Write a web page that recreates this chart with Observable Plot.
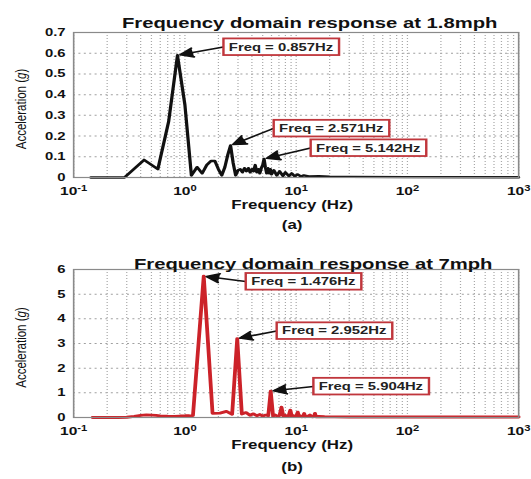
<!DOCTYPE html>
<html><head><meta charset="utf-8">
<script src="https://cdn.jsdelivr.net/npm/d3@7"></script>
<script src="https://cdn.jsdelivr.net/npm/@observablehq/plot@0.6"></script>
<style>
body{margin:0;background:#fff;}
#chart{width:531px;height:479px;overflow:hidden;background:#fff;}
#chart svg{display:block;}
</style></head><body><div id="chart"></div>
<script>
// ---------- data ----------
const xTicks = [0.1, 1, 10, 100, 1000];

const titleA = "Frequency domain response at 1.8mph";
const captionA = "(a)";
const freqA = [0.143, 0.286, 0.429, 0.571, 0.714, 0.857, 1.0, 1.143, 1.286, 1.429, 1.571, 1.714, 1.857, 2.0, 2.143, 2.286, 2.429, 2.571, 2.714, 2.857, 3.0, 3.143, 3.286, 3.429, 3.571, 3.714, 3.857, 4.0, 4.143, 4.286, 4.429, 4.571, 4.714, 4.857, 5.0, 5.143, 5.286, 5.429, 5.571, 5.714, 5.857, 6.0, 6.3, 6.7, 7.1, 7.6, 8.0, 8.6, 9.1, 9.7, 10.3, 11.0, 11.7, 13.0, 16.0, 20.0, 30.0, 100, 1000];
const accA = [0, 0, 0.085, 0.04, 0.27, 0.59, 0.35, 0.01, 0.05, 0.02, 0.06, 0.08, 0.08, 0.04, 0.01, 0.05, 0.11, 0.155, 0.07, 0.01, 0.035, 0.04, 0.025, 0.045, 0.03, 0.045, 0.025, 0.04, 0.03, 0.06, 0.025, 0.04, 0.02, 0.045, 0.06, 0.09, 0.05, 0.02, 0.045, 0.02, 0.04, 0.015, 0.035, 0.01, 0.03, 0.008, 0.025, 0.007, 0.02, 0.006, 0.015, 0.005, 0.01, 0.005, 0.006, 0.004, 0.003, 0.002, 0.001];
const noteLabelA = ["Freq = 0.857Hz", "Freq = 2.571Hz", "Freq = 5.142Hz"];
const peakFreqA = [0.857, 2.571, 5.142];
const peakAccA = [0.59, 0.155, 0.09];
const noteFreqA = [2.22, 6.28, 13.5];
const noteAccA = [0.63, 0.237, 0.1425];

const titleB = "Frequency domain response at 7mph";
const captionB = "(b)";
const freqB = [0.148, 0.2, 0.25, 0.3, 0.35, 0.4, 0.45, 0.5, 0.55, 0.6, 0.7, 0.8, 0.9, 1.0, 1.1, 1.181, 1.476, 1.771, 2.066, 2.362, 2.657, 2.952, 3.247, 3.542, 3.838, 4.133, 4.428, 4.723, 5.018, 5.314, 5.609, 5.904, 6.199, 6.494, 6.79, 7.085, 7.38, 7.675, 7.97, 8.27, 8.56, 8.86, 9.15, 9.45, 9.74, 10.04, 10.33, 10.63, 10.92, 11.22, 11.51, 11.81, 12.1, 12.7, 13.28, 13.9, 14.46, 14.76, 15.05, 16.0, 18.0, 22.0, 30.0, 100, 1000];
const accB = [0, 0, 0, 0.01, 0.05, 0.09, 0.11, 0.1, 0.09, 0.07, 0.05, 0.04, 0.06, 0.07, 0.07, 0.08, 5.73, 0.17, 0.18, 0.25, 0.13, 3.2, 0.14, 0.2, 0.09, 0.15, 0.07, 0.12, 0.06, 0.1, 0.07, 1.07, 0.06, 0.1, 0.05, 0.08, 0.42, 0.05, 0.09, 0.04, 0.07, 0.3, 0.04, 0.07, 0.04, 0.06, 0.22, 0.04, 0.06, 0.03, 0.05, 0.16, 0.03, 0.05, 0.1, 0.03, 0.04, 0.17, 0.03, 0.04, 0.03, 0.025, 0.02, 0.02, 0.02];
const noteLabelB = ["Freq = 1.476Hz", "Freq = 2.952Hz", "Freq = 5.904Hz"];
const peakFreqB = [1.476, 2.952, 5.904];
const peakAccB = [5.73, 3.2, 1.07];
const noteFreqB = [3.52, 6.68, 14.28];
const noteAccB = [5.51, 3.51, 1.26];

const xLabel = "Frequency (Hz)";
const yLabel = "Acceleration (g)";

// ---------- drawing ----------
const S = 1.35;            // horizontal stretch of the original figure
const W = 531 / S;
const NS = "http://www.w3.org/2000/svg";
const FONT = "'Liberation Sans', Arial, sans-serif";

function panel(o) {
  const rows = o.freq.map((f, i) => ({f, a: o.acc[i]}));
  const notes = o.labels.map((l, i) => ({label: l, px: o.pf[i], py: o.pa[i], nx: o.nf[i], ny: o.na[i]}));
  const svg = Plot.plot({
    width: W, height: o.height,
    marginLeft: 73 / S, marginRight: W - 518 / S,
    marginTop: o.mt, marginBottom: o.mb,
    style: {fontFamily: FONT, background: "white", color: "#111"},
    x: {type: "log", domain: [0.1, 1000]},
    y: {domain: [0, o.yMax]},
    marks: [
      Plot.gridX({ticks: 40, stroke: "#a8a8a8", strokeOpacity: 1, strokeWidth: 0.9, strokeDasharray: "1,2"}),
      Plot.gridY({ticks: o.yTicks, stroke: "#a0a0a0", strokeOpacity: 1, strokeWidth: 1, strokeDasharray: "1.5,2.5"}),
      Plot.line(rows, {x: "f", y: "a", stroke: o.color, strokeWidth: o.sw}),
      Plot.frame({stroke: "#8a8a8a", strokeWidth: 1.2}),
      Plot.arrow(notes, {x1: "nx", y1: "ny", x2: "px", y2: "py", stroke: "#111", fill: "#111", strokeWidth: 1.6, headLength: 10, headAngle: 50, insetEnd: 2}),
      Plot.text(notes, {x: "nx", y: "ny", text: "label", textAnchor: "start", dx: 4, fontSize: 11, fontWeight: "bold", fill: "#222"}),
      Plot.axisX({ticks: xTicks, tickFormat: d => "10^" + Math.round(Math.log10(d)), tickSize: 0, tickPadding: 9.5, fontSize: 11.5, fontWeight: "bold", label: null}),
      Plot.axisY({ticks: o.yTicks, tickFormat: "~g", tickSize: 0, tickPadding: 6, fontSize: 11, fontWeight: "bold", label: null}),
      Plot.text([o.title], {text: d => d, frameAnchor: "top", dy: o.titleDy, dx: o.titleDx, fontSize: 15, fontWeight: "bold", fill: "#111"}),
      Plot.text([xLabel], {text: d => d, frameAnchor: "bottom", dy: 31, dx: -3, fontSize: 12.5, fontWeight: "bold", fill: "#111"}),
      Plot.text([o.caption], {text: d => d, frameAnchor: "bottom", dy: o.capDy, dx: -3, fontSize: 12.5, fontWeight: "bold", fill: "#111"}),
      Plot.text([yLabel], {text: d => d, frameAnchor: "left", textAnchor: "middle", rotate: -90, dx: -39.3, dy: 4, fontSize: 11.5, fill: "#111"})
    ]
  });
  document.getElementById("chart").appendChild(svg);
  svg.setAttribute("width", 531);
  svg.setAttribute("preserveAspectRatio", "none");
  svg.style.width = "531px";
  svg.style.height = o.height + "px";
  svg.style.maxWidth = "none";

  // superscript exponents on the log axis
  svg.querySelectorAll('g[aria-label="x-axis tick label"] text').forEach(t => {
    const [base, exp] = t.textContent.split("^");
    t.textContent = base;
    const ts = document.createElementNS(NS, "tspan");
    ts.setAttribute("dy", "-0.5em");
    ts.setAttribute("font-size", "0.72em");
    ts.textContent = exp;
    t.appendChild(ts);
  });
  svg.querySelectorAll("text").forEach(t => {
    if (t.textContent === yLabel) {
      t.textContent = "Acceleration (";
      const ts = document.createElementNS(NS, "tspan");
      ts.setAttribute("font-style", "italic");
      ts.textContent = "g";
      t.appendChild(ts);
      t.appendChild(document.createTextNode(")"));
    } else if (t.textContent.startsWith("Freq =")) {
      const b = t.getBBox();
      const r = document.createElementNS(NS, "rect");
      r.setAttribute("x", b.x - 4);
      r.setAttribute("y", b.y - 2);
      r.setAttribute("width", b.width + 8);
      r.setAttribute("height", b.height + 4);
      r.setAttribute("fill", "white");
      r.setAttribute("stroke", "#c0363c");
      r.setAttribute("stroke-width", 1.8);
      const tr = t.getAttribute("transform");
      if (tr) r.setAttribute("transform", tr);
      t.parentNode.insertBefore(r, t);
    }
  });
}

panel({freq: freqA, acc: accA, labels: noteLabelA, pf: peakFreqA, pa: peakAccA, nf: noteFreqA, na: noteAccA,
  yMax: 0.7, yTicks: 7, color: "#111", sw: 2.4, title: titleA, caption: captionA,
  height: 240, mt: 32, mb: 63, titleDy: -15, titleDx: 10, capDy: 51});
panel({freq: freqB, acc: accB, labels: noteLabelB, pf: peakFreqB, pa: peakAccB, nf: noteFreqB, na: noteAccB,
  yMax: 6, yTicks: 6, color: "#cc2229", sw: 2.8, title: titleB, caption: captionB,
  height: 239, mt: 29, mb: 62, titleDy: -11, titleDx: 12.6, capDy: 53});
</script></body></html>
